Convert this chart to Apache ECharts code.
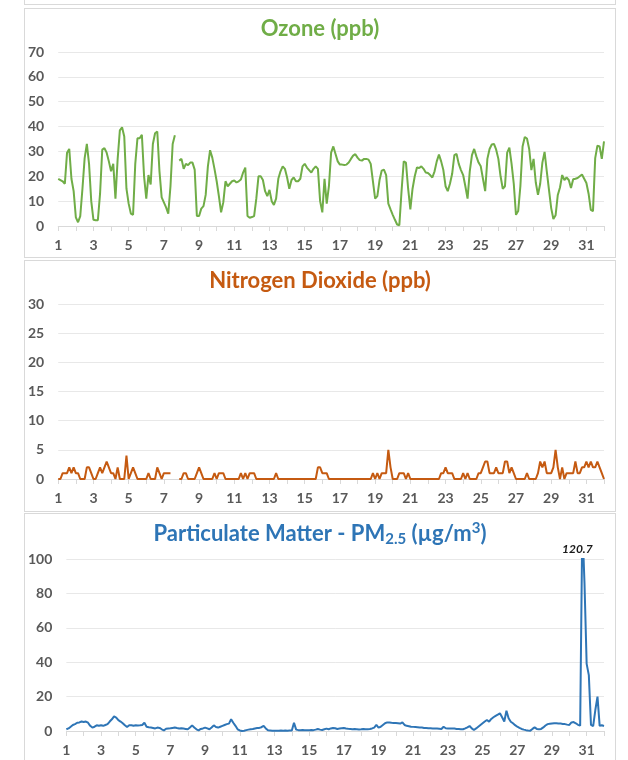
<!DOCTYPE html>
<html><head><meta charset="utf-8">
<script src="https://cdn.jsdelivr.net/npm/echarts@6/dist/echarts.min.js"></script>
<style>
html,body{margin:0;padding:0;background:#fff}
body{width:628px;height:760px;overflow:hidden;position:relative}
.p{position:absolute;left:24px;width:592px;box-sizing:border-box;border:1px solid #d9d9d9;background:#fff}
</style></head><body>
<div class="p" style="top:-20px;height:25px"></div>
<div class="p" id="c1" style="top:8px;height:250px"></div>
<div class="p" id="c2" style="top:260px;height:252px"></div>
<div class="p" id="c3" style="top:513px;height:250px"></div>
<script>
// Samples every 3 hours, starting day 1 00:00; last value = day 32 00:00
const dayTicks = [1,3,5,7,9,11,13,15,17,19,21,23,25,27,29,31];
const ozone = [
19,18.5,18,17,29.5,31,19,14,
3.5,1.5,4,15,27.3,33,25,10,
2.5,2.3,2.3,13,30.7,31.3,29.5,26,
22,25,11,27,38.5,39.7,36,15,
9,5,4.5,25,35.3,35.3,36.7,20,
11,20.5,16.7,33,37.3,38,22,11.5,
9.5,7.5,5,16,33,36.5,null,26.3,
27,23,25,24.5,25.5,25.5,22.7,4,
4,7,8,12.5,24,30.5,27.5,23,
18,12,5.5,9.5,18,16,17,18,
18.3,17.5,18,18.7,21.5,23.5,4,3.3,
3.6,4,11,20,20,18.5,14,12,
14.5,10,8.5,11,19,22,24,23,
19.5,15,18.5,19.5,18,18,19,24,
25,23.5,22.5,21.5,23,24,23,10,
5.5,19,9,16,29.5,32,29,26,
24.7,24.7,24.5,24.7,25.5,27,28.3,28.9,
27.5,26.5,26.3,27,27,26.7,25,18,
11,12,18.5,22.3,22.7,20.5,9,6.7,
4.5,2.5,0.6,0.3,14,26,25.5,15,
6.7,15,20,23.5,23.3,24,23,21.5,
21.3,20.5,19.5,22,26,28.7,26,22.5,
16,14,17,21,28.5,29,25,22.5,
20.5,16,11,22,28.5,31,28,25.5,
24,19,14,27,31,32.8,33,30.7,
27,20,15,16,29.5,31.5,25,17,
4.5,6,16,32,35.8,35.2,31,22.5,
27,17.5,12.5,17,25.5,29.8,22,14.5,
7.2,2.8,4.3,12.5,15.5,20.5,18.5,19.5,
18.5,15.3,18.8,19,19.3,20,20.7,19,
17.3,13,6.5,6,27.3,32.3,32,27,
34];
const no2 = [
0,0,1,1,1,2,1,2,
1,1,0,0,0,2,2,1,
0,0,1,2,1,2,3,2,
1,1,0,2,0,0,0,4,
0,1,2,1,0,0,0,0,
0,1,0,0,0,2,1,0,
1,1,1,1,null,null,null,0,
0,1,1,0,0,0,0,1,
2,1,0,0,0,0,0,1,
0,1,1,1,0,0,0,0,
0,0,0,1,0,1,0,1,
1,1,0,0,0,0,0,0,
0,0,0,1,0,0,0,0,
0,0,0,0,0,0,0,0,
0,0,0,0,0,0,2,2,
1,1,1,0,0,0,0,0,
0,0,0,0,0,0,0,0,
0,0,0,0,0,0,0,1,
0,1,0,1,1,1,5,2,
0,0,0,1,1,1,0,1,
0,0,0,0,0,0,0,0,
0,0,0,0,0,0,1,1,
2,1,1,1,0,0,0,0,
1,0,1,0,0,0,0,1,
1,2,3,3,1,1,1,2,
1,1,1,3,3,1,2,1,
0,0,0,0,0,1,0,0,
0,0,1,3,2,3,1,1,
1,2,5,2,0,2,0,1,
1,1,1,3,1,1,2,2,
3,2,3,2,2,3,2,1,
0];
const pm25 = [
1,1.5,2.5,3.5,4,4.8,5,5.5,
5.2,5.5,4.8,3,2,2.5,3.3,3,
3.3,3,3.5,4,5.5,6.8,8.5,7.8,
6.3,5.5,4.5,3.3,2.3,3.3,3.3,3,
3.3,3.2,3.3,3.5,4.8,2.5,2.2,2,
1.8,1.5,2,1.8,1,0.4,1.3,1.5,
1.6,1.8,2,1.7,1.5,1.6,1.4,1.2,
1,2,3.3,2,1,0.4,1.2,1.5,
2,1.5,1,2,3.3,2.3,2,2.5,
3,3.5,4,4.3,6.8,4.8,3,1,
0.3,0,0.2,0.5,0.8,1,1.2,1.5,
1.7,1.8,2.2,3,1.5,0.4,0.3,0.2,
0.2,0.1,0.2,0.3,0.2,0.3,0.2,0.3,
0.3,4.8,0.8,0.5,0.4,0.6,0.5,0.4,
0.5,0.6,0.5,0.8,1.2,0.8,0.6,1,
1.4,1,1.5,1.8,1.6,1.2,1.4,1.6,
1.8,1.5,1.3,1.2,1,1.1,1,0.9,
1,1.2,1,1,1.2,1.5,2,3.5,
2,2.5,3.5,4.5,5,5,4.8,4.7,
4.6,4.5,4.3,5,3.5,3,2.8,2.5,
2.4,2.3,2.2,2,2,1.8,1.7,1.6,
1.6,1.5,1.5,1.4,1.3,1.2,2.5,1.6,
1.5,1.5,1.4,1.4,1.2,1.1,1,1,
1.5,2.1,2.9,1.5,0.6,1.5,2.5,3.5,
4.5,5.5,6.4,5.4,7,8,8.8,9.5,
10.3,8,5.5,11.8,7.4,5.4,4.5,3.4,
2.5,1.8,1.2,0.8,0.5,0.3,0.2,1.2,
2.1,1.2,1,1.2,2.1,3.2,4,4.2,
4.4,4.5,4.5,4.4,4.3,4.1,4,3.7,
3.5,5,5.2,4.5,3.6,3.1,120.7,86,
39,32.5,3.5,2.8,12.2,20,3,3.3,
2.9];
const ozoneTicks = [0,10,20,30,40,50,60,70];
const no2Ticks = [0,5,10,15,20,25,30];
const pmTicks = [0,20,40,60,80,100];

const FONT = 'Lato';
const LBL = '#595959';
function pairs(vals){ return vals.map((v,i)=>[1 + i/8, v===null ? '-' : v]); }
function xAxisCfg(){
  return {type:'value', min:dayTicks[0], max:32, interval:dayTicks[1]-dayTicks[0],
    axisLine:{show:true,lineStyle:{color:'#d9d9d9',width:1}},
    axisTick:{show:true,length:5,lineStyle:{color:'#d9d9d9'}},
    minorTick:{show:true,splitNumber:2,length:5,lineStyle:{color:'#d9d9d9'}},
    axisLabel:{color:LBL,fontWeight:'bold',fontSize:14,fontFamily:FONT,margin:12,showMaxLabel:false,
      formatter:v=>dayTicks.indexOf(v)>=0 ? String(v) : ''},
    splitLine:{show:false}};
}
function yAxisCfg(ticks){
  return {type:'value', min:ticks[0], max:ticks[ticks.length-1], interval:ticks[1]-ticks[0],
    axisLine:{show:false}, axisTick:{show:false},
    axisLabel:{color:LBL,fontWeight:'bold',fontSize:14,fontFamily:FONT,margin:14},
    splitLine:{lineStyle:{color:'#e8e8e8',width:1}}};
}
function make(id, titleText, titleColor, rich, grid, ticks, vals, color, extra){
  const ch = echarts.init(document.getElementById(id), null, {renderer:'canvas'});
  const series = Object.assign({type:'line', data:pairs(vals), showSymbol:false, symbol:'none',
    lineStyle:{width:2,color:color}, itemStyle:{color:color}, connectNulls:false, animation:false, clip:true}, extra||{});
  ch.setOption({
    animation:false,
    title:{text:titleText, left:'center', top:grid.titleTop,
      textStyle:{color:titleColor,fontSize:22,fontWeight:'bold',fontFamily:FONT,rich:rich||{}}},
    grid:{left:grid.left,right:grid.right,top:grid.top,bottom:grid.bottom},
    xAxis:xAxisCfg(), yAxis:yAxisCfg(ticks), series:[series]
  });
}
make('c1','Ozone (ppb)','#70AD47',null,{left:32,right:11,top:43,bottom:31,titleTop:4},ozoneTicks,ozone,'#70AD47');
make('c2','Nitrogen Dioxide (ppb)','#C55A11',null,{left:32,right:11,top:43,bottom:32,titleTop:4},no2Ticks,no2,'#C55A11');

let pk = 0; pm25.forEach((v,i)=>{ if(v>pm25[pk]) pk=i; });
const pmMax = pmTicks[pmTicks.length-1];
make('c3','{a|Particulate Matter - PM}{s|2.5}{a| (µg/m}{p|3}{a|)}','#2E75B6',{
  a:{color:'#2E75B6',fontSize:22,fontWeight:'bold',fontFamily:FONT,lineHeight:26},
  s:{color:'#2E75B6',fontSize:15,fontWeight:'bold',fontFamily:FONT,lineHeight:14,verticalAlign:'bottom'},
  p:{color:'#2E75B6',fontSize:15,fontWeight:'bold',fontFamily:FONT,lineHeight:14,verticalAlign:'top'}
},{left:39,right:11,top:45,bottom:31,titleTop:2},pmTicks,pm25,'#2E75B6',{
  markPoint:{symbol:'circle',symbolSize:1,itemStyle:{color:'rgba(0,0,0,0)'},
    label:{show:true,position:'top',distance:3,offset:[-5,0],color:'#1a1a1a',fontWeight:'bold',fontStyle:'italic',fontSize:12,fontFamily:FONT,
      formatter:()=>String(pm25[pk])},
    data:[{coord:[1+pk/8, pmMax], value:pm25[pk]}]}
});
</script>
</body></html>
